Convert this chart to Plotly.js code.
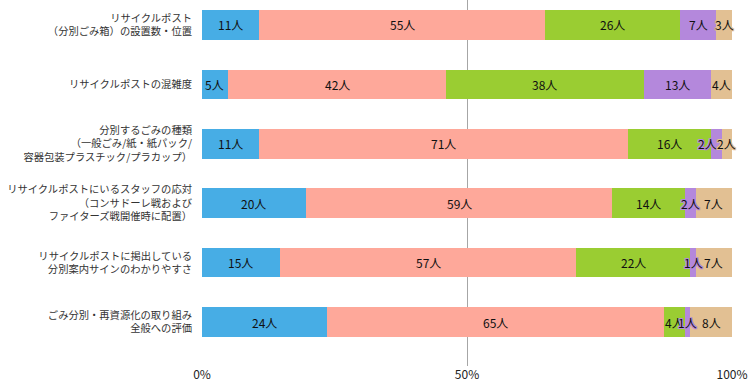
<!DOCTYPE html>
<html>
<head>
<meta charset="utf-8">
<script src="https://cdn.plot.ly/plotly-3.0.1.min.js"></script>
<style>html,body{margin:0;padding:0;background:#fff;}#chart{width:748px;height:381px;}</style>
</head>
<body>
<div id="chart"></div>
<script>
const categories = [
  "リサイクルポスト<br>（分別ごみ箱）の設置数・位置",
  "リサイクルポストの混雑度",
  "分別するごみの種類<br>（一般ごみ/紙・紙パック/<br>容器包装プラスチック/プラカップ）",
  "リサイクルポストにいるスタッフの応対<br>（コンサドーレ戦および<br>ファイターズ戦開催時に配置）",
  "リサイクルポストに掲出している<br>分別案内サインのわかりやすさ",
  "ごみ分別・再資源化の取り組み<br>全般への評価"
];
const seriesNames = ["満足", "やや満足", "普通", "やや不満", "不満"];
const s1 = [11, 5, 11, 20, 15, 24];
const s2 = [55, 42, 71, 59, 57, 65];
const s3 = [26, 38, 16, 14, 22, 4];
const s4 = [7, 13, 2, 2, 1, 1];
const s5 = [3, 4, 2, 7, 7, 8];
const xTickVals = [0, 50, 100];
const xTickText = ["0%", "50%", "100%"];

const colors = ["#47ADE5", "#FEA89A", "#9ACD32", "#B488DC", "#E2C093"];
const allSeries = [s1, s2, s3, s4, s5];
// style: nudge of a crowded label (series index 3, row 2) in pixels
const labelNudge = {"3-2": -9};

function halo(c) {
  return `1px 0 0 ${c}, -1px 0 0 ${c}, 0 1px 0 ${c}, 0 -1px 0 ${c}, 1px 1px 0 ${c}, -1px -1px 0 ${c}, 1px -1px 0 ${c}, -1px 1px 0 ${c}`;
}

const traces = allSeries.map((vals, i) => ({
  type: "bar",
  orientation: "h",
  name: seriesNames[i],
  y: categories,
  x: vals,
  marker: {color: colors[i], line: {width: 0}},
  width: 0.5,
  hoverinfo: "x+y+name"
}));

// value labels placed at each segment's middle (in percent of the row total), drawn above all bars
const totals = categories.map((c, j) => allSeries.reduce((a, s) => a + s[j], 0));
const annotations = [];
categories.forEach((cat, j) => {
  let cum = 0;
  allSeries.forEach((s, i) => {
    const v = s[j];
    const mid = (cum + v / 2) / totals[j] * 100;
    cum += v;
    annotations.push({
      x: mid, y: cat, xref: "x", yref: "y",
      text: v + "人",
      showarrow: false,
      xshift: labelNudge[i + "-" + j] || 0,
      font: {family: "Noto Sans CJK JP, sans-serif", size: 12, color: "#111", shadow: halo(colors[i])}
    });
  });
});

const layout = {
  width: 748,
  height: 381,
  margin: {l: 202, r: 16, t: 0, b: 15},
  barmode: "stack",
  barnorm: "percent",
  showlegend: false,
  paper_bgcolor: "#fff",
  plot_bgcolor: "#fff",
  font: {family: "Noto Sans CJK JP, sans-serif", size: 10.3, color: "#333"},
  annotations: annotations,
  xaxis: {
    range: [0, 100],
    tickvals: xTickVals,
    ticktext: xTickText,
    showgrid: true,
    gridcolor: "#A6A6A6",
    gridwidth: 1,
    zeroline: false,
    showline: false,
    ticks: "",
    tickfont: {size: 12, color: "#222"},
    fixedrange: true
  },
  yaxis: {
    type: "category",
    categoryorder: "array",
    categoryarray: categories,
    range: [5.74, -0.42],
    showgrid: false,
    zeroline: false,
    showline: false,
    ticks: "",
    ticklabelstandoff: 9,
    tickfont: {size: 10.3, color: "#333"},
    fixedrange: true
  }
};

Plotly.newPlot("chart", traces, layout, {displayModeBar: false, staticPlot: true});
</script>
</body>
</html>
